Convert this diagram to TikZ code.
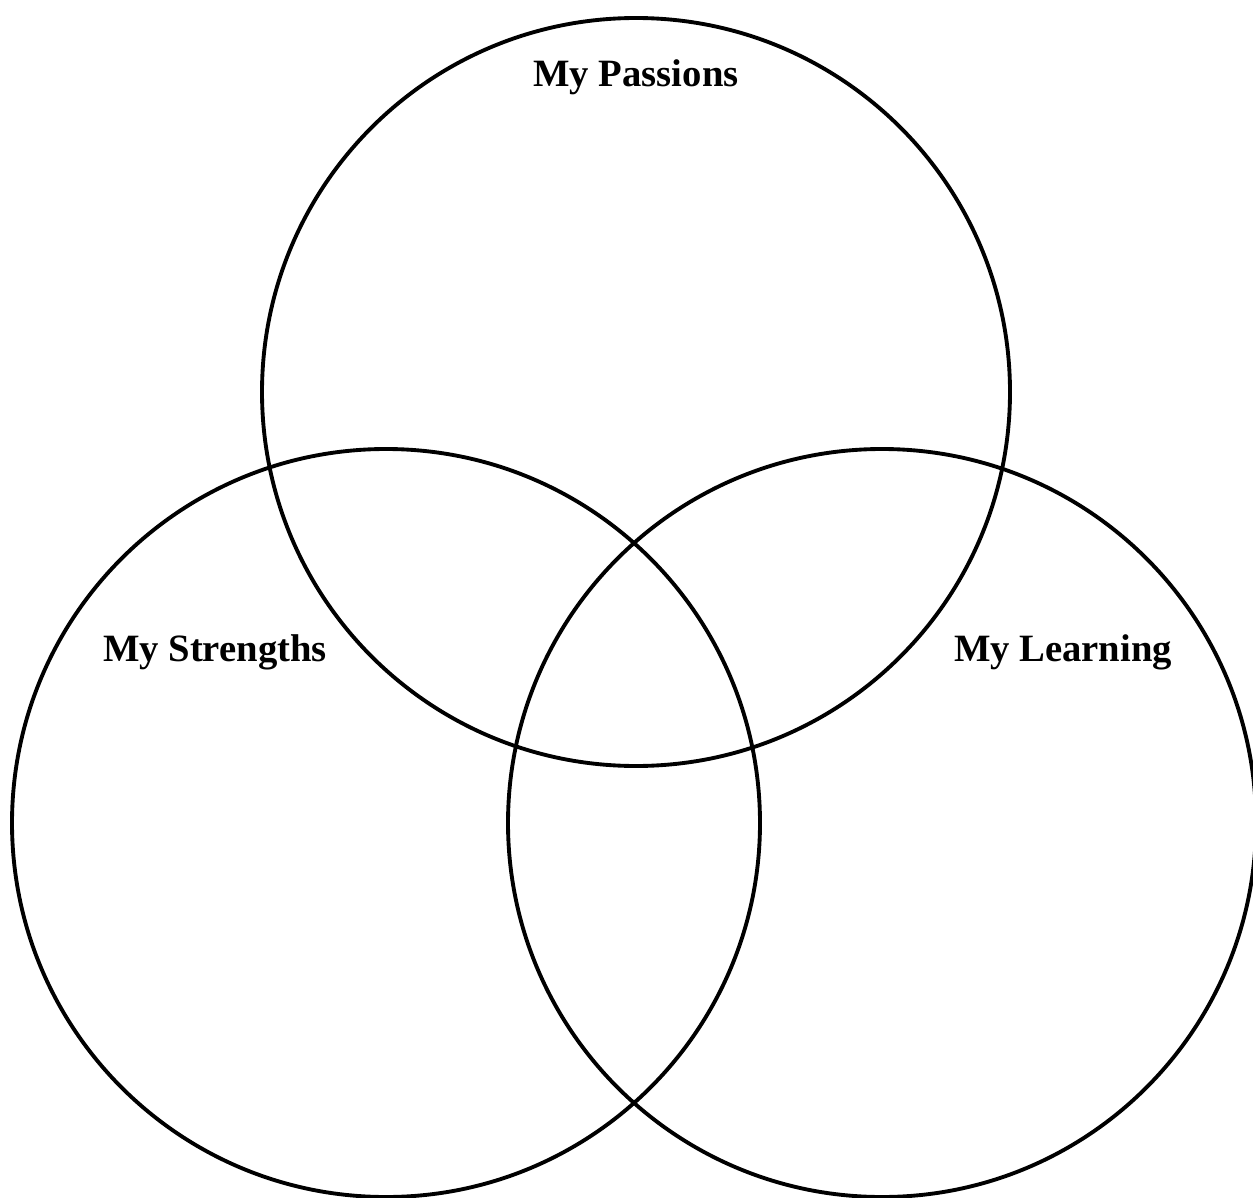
\documentclass[tikz,border=0pt]{standalone}
\usepackage{fontspec}
\setmainfont{Liberation Serif}
\begin{document}
\begin{tikzpicture}[
    x=1cm,y=1cm,
    every node/.style={font=\bfseries\fontsize{11}{13}\selectfont},
    ring/.style={draw=black, circle, line width=1.1pt, minimum size=7.48cm, inner sep=0pt}
]
    \useasboundingbox (0,0) rectangle (12.53,11.97);

    \node[ring] (passions)  at (6.36,8.05) {};
    \node[ring] (strengths) at (3.86,3.74) {};
    \node[ring] (learning)  at (8.82,3.74) {};

    \node (passionslbl)  at (6.36,11.20) {My Passions};
    \node (strengthslbl) at (2.15,5.45)  {My Strengths};
    \node (learninglbl)  at (10.63,5.45) {My Learning};
\end{tikzpicture}
\end{document}
